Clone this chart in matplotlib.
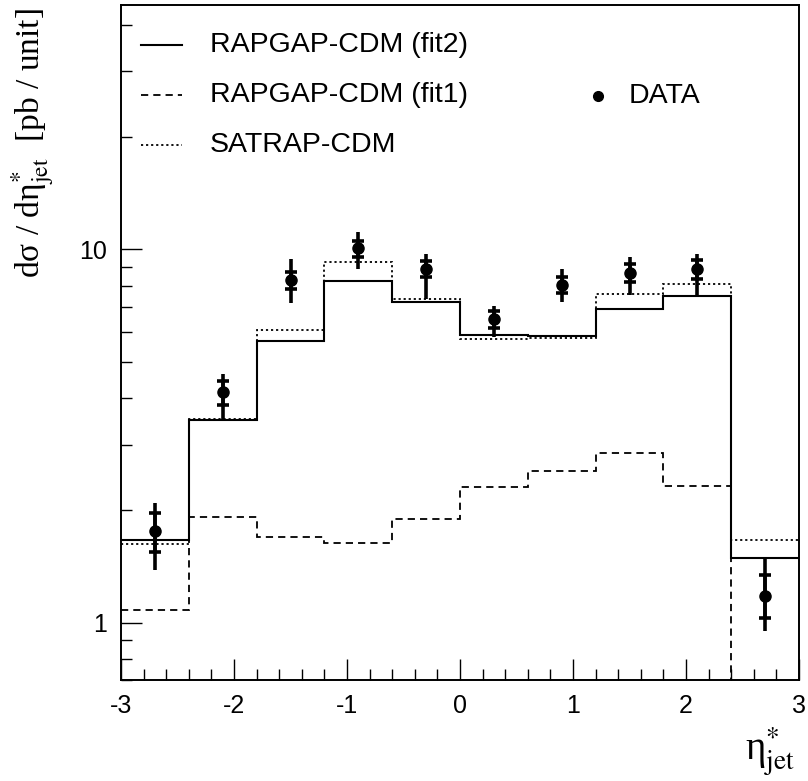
import numpy as np
import matplotlib
matplotlib.use("Agg")
import matplotlib.pyplot as plt
from matplotlib.ticker import FixedLocator, NullFormatter, MultipleLocator, FixedFormatter

# ---- data ----
edges = [-3.0, -2.4, -1.8, -1.2, -0.6, 0.0, 0.6, 1.2, 1.8, 2.4, 3.0]
fit2 = [1.66, 3.49, 5.68, 8.22, 7.23, 5.89, 5.85, 6.92, 7.49, 1.49]
fit1 = [1.08, 1.92, 1.70, 1.63, 1.90, 2.31, 2.55, 2.85, 2.32, 0.5]
satrap = [1.62, 3.52, 6.07, 9.23, 7.37, 5.74, 5.80, 7.59, 8.09, 1.66]

data_x = [-2.7, -2.1, -1.5, -0.9, -0.3, 0.3, 0.9, 1.5, 2.1, 2.7]
data_y = [1.76, 4.15, 8.27, 10.1, 8.85, 6.50, 8.02, 8.65, 8.84, 1.18]
tot_hi = [2.09, 4.63, 9.40, 11.15, 9.75, 7.07, 8.85, 9.52, 9.71, 1.50]
tot_lo = [1.38, 3.52, 7.19, 8.84, 7.37, 5.83, 7.23, 7.57, 7.49, 0.952]
stat_hi = [1.96, 4.43, 8.71, 10.55, 9.32, 6.83, 8.41, 9.13, 9.36, 1.34]
stat_lo = [1.55, 3.82, 7.81, 9.55, 8.41, 6.14, 7.62, 8.19, 8.31, 1.03]

labels = ["RAPGAP-CDM (fit2)", "RAPGAP-CDM (fit1)", "SATRAP-CDM", "DATA"]
ytick_vals = [1, 10]
ytick_labels = ['1', '10']

plt.rcParams['font.family'] = ['Liberation Sans', 'DejaVu Sans']
plt.rcParams['mathtext.fontset'] = 'stix'
plt.rcParams['axes.unicode_minus'] = False

fig = plt.figure(figsize=(8.08, 7.81), dpi=100)
ax = fig.add_axes([0.1498, 0.1289, 0.8391, 0.8647])

dashed = (0, (4.0, 2.8))
dotted = (0, (1.2, 1.6))
ax.stairs(fit2, edges, baseline=None, color='black', lw=1.5, ls='-')
ax.stairs(fit1, edges, baseline=None, color='black', lw=1.3, ls=dashed)
ax.stairs(satrap, edges, baseline=None, color='black', lw=1.3, ls=dotted)

dy = np.array(data_y)
tot_err = [dy - np.array(tot_lo), np.array(tot_hi) - dy]
stat_err = [dy - np.array(stat_lo), np.array(stat_hi) - dy]
ax.errorbar(data_x, data_y, yerr=tot_err, fmt='none', ecolor='black',
            elinewidth=2.6, capsize=0)
ax.errorbar(data_x, data_y, yerr=stat_err, fmt='o', color='black',
            ms=8, elinewidth=2.6, capsize=4, capthick=2.6)

ax.set_yscale('log')
ax.set_xlim(-3, 3)
ax.set_ylim(0.7, 45.2)

ax.xaxis.set_major_locator(MultipleLocator(1))
ax.xaxis.set_minor_locator(MultipleLocator(0.2))
ax.yaxis.set_major_locator(FixedLocator(ytick_vals))
ax.yaxis.set_major_formatter(FixedFormatter(ytick_labels))
ax.yaxis.set_minor_locator(FixedLocator([0.7, 0.8, 0.9, 2, 3, 4, 5, 6, 7, 8, 9, 20, 30, 40]))
ax.yaxis.set_minor_formatter(NullFormatter())
ax.tick_params(which='both', direction='in', top=False, right=False,
               labelsize=18, width=1.0)
ax.tick_params(which='major', length=15, pad=10)
ax.tick_params(which='minor', length=8)
for s in ax.spines.values():
    s.set_linewidth(1.4)

# legend (drawn manually in axes fraction)
tr = ax.transAxes
def ax_frac(px, py):
    return ((px - 121) / 678.0, (680.3 - py) / 675.3)

rows = [45, 95, 145]
styles = [('-', 1.5), (dashed, 1.3), (dotted, 1.3)]
for r, (ls, lw), lab in zip(rows, styles, labels[:3]):
    x0, y0 = ax_frac(141, r)
    x1, _ = ax_frac(182, r)
    ax.plot([x0, x1], [y0, y0], transform=tr, color='black', ls=ls, lw=lw)
    xt, _ = ax_frac(210, r)
    ax.text(xt, y0, lab, transform=tr, fontsize=20.5, va='center', ha='left')
xd, yd = ax_frac(598, 96)
ax.plot([xd], [yd], 'o', color='black', ms=7, transform=tr)
xt, _ = ax_frac(629, 96)
ax.text(xt, yd, labels[3], transform=tr, fontsize=20.5, va='center', ha='left')

serif = ['Liberation Serif', 'DejaVu Serif']
fig.text(33 / 808, 1 - 143 / 781,
         r'dσ / dη$^{*}_{\mathrm{jet}}$  [pb / unit]',
         rotation=90, ha='center', va='center', fontsize=24, family=serif)
fig.text(770 / 808, 1 - 752 / 781, r'η$^{*}_{\mathrm{jet}}$',
         ha='center', va='center', fontsize=28, family=serif)

fig.savefig('out.png', dpi=100)
